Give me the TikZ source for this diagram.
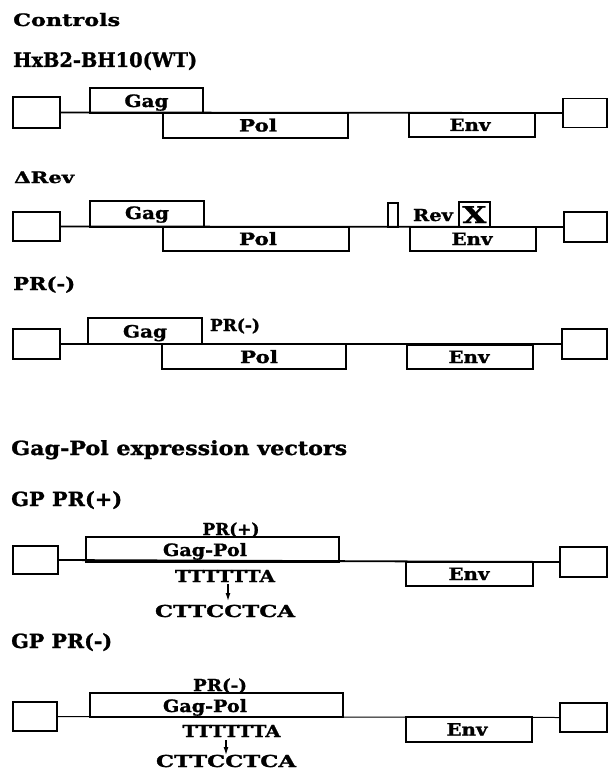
\documentclass[tikz,border=0pt]{standalone}
\usepackage{fontspec}
\setmainfont{DejaVu Serif}[BoldFeatures={FakeBold=1.2}]
\usetikzlibrary{arrows.meta}
% exact width (pt), natural height
\newcommand\tw[2]{\resizebox{#1pt}{\height}{#2}}
% exact width and height (pt)
\newcommand\twh[3]{\resizebox{#1pt}{#2pt}{#3}}
\begin{document}
\begin{tikzpicture}[x=1pt,y=-1pt,
  bx/.style={draw, line width=1.5pt, rectangle, inner sep=0pt},
  fs/.style={font=\bfseries\fontsize{#1}{#1}\selectfont},
  lab/.style={anchor=base, inner sep=0pt},
  hdr/.style={anchor=base west, inner sep=0pt},
  gline/.style={line width=1.8pt},
  arr/.style={-{Latex[length=8pt,width=5pt]}, line width=1.2pt},
  ]
\useasboundingbox (0,0) rectangle (609,773);

% headings
\node[hdr, fs=19.5] (hc) at (13,26) {\twh{107}{13}{Controls}};
\node[hdr, fs=20] (hwt) at (13,67) {\tw{184}{HxB2-BH10(WT)}};
\node[hdr, fs=19.5] (hrev) at (14,183) {\twh{60}{11.5}{ΔRev}};
\node[hdr, fs=19.5] (hpr) at (13,290) {\twh{62}{13.5}{PR(-)}};
\node[hdr, fs=19.5] (hgp) at (11,455) {\tw{336}{Gag-Pol expression vectors}};
\node[hdr, fs=19.5] (hgpp) at (11,506) {\tw{111}{GP PR(+)}};
\node[hdr, fs=19.5] (hgpm) at (11,648) {\tw{101}{GP PR(-)}};

% row 1
\node[bx, minimum width=47pt, minimum height=31pt] (l1) at (36.5,112.5) {};
\node[bx, minimum width=113pt, minimum height=25pt] (g1) at (146.5,100.5) {};
\node[bx, minimum width=185pt, minimum height=25pt] (p1) at (255.5,125.5) {};
\node[bx, minimum width=126pt, minimum height=24pt] (e1) at (472,125) {};
\node[bx, minimum width=44pt, minimum height=29pt] (r1) at (585,113) {};
\draw[gline] (l1.east) -- (r1.west);
\node[lab, fs=17] (g1t) at (146.5,107) {\tw{44}{Gag}};
\node[lab, fs=17] (p1t) at (258,131.5) {\tw{38}{Pol}};
\node[lab, fs=17] (e1t) at (470,131) {\tw{41}{Env}};

% row 2
\node[bx, minimum width=47pt, minimum height=29pt] (l2) at (36.5,226.5) {};
\node[bx, minimum width=114pt, minimum height=26pt] (g2) at (147,214) {};
\node[bx, minimum width=186pt, minimum height=24pt] (p2) at (256,239) {};
\node[bx, minimum width=10pt, minimum height=24pt] (rv2) at (393,215) {};
\node[bx, minimum width=31pt, minimum height=25pt] (x2) at (474.5,214.5) {};
\node[bx, minimum width=126pt, minimum height=24pt] (e2) at (473,239) {};
\node[bx, minimum width=43pt, minimum height=30pt] (r2) at (585.5,227) {};
\draw[gline] (l2.east) -- (r2.west);
\node[lab, fs=17] (g2t) at (147,219) {\tw{44}{Gag}};
\node[lab, fs=17] (p2t) at (258,245) {\tw{38}{Pol}};
\node[lab, fs=17] (e2t) at (472,245) {\tw{41}{Env}};
\node[lab, fs=16.5] (rt2) at (433,221) {\tw{40}{Rev}};
\node[lab, fs=23] (xt2) at (474.5,223) {\tw{24}{X}};

% row 3
\node[bx, minimum width=47pt, minimum height=30pt] (l3) at (36.5,344) {};
\node[bx, minimum width=114pt, minimum height=26pt] (g3) at (145,331) {};
\node[bx, minimum width=184pt, minimum height=25pt] (p3) at (254,356.5) {};
\node[bx, minimum width=126pt, minimum height=24pt] (e3) at (470,357) {};
\node[bx, minimum width=45pt, minimum height=30pt] (r3) at (584.5,344) {};
\draw[gline] (l3.east) -- (r3.west);
\node[lab, fs=17] (g3t) at (145,337.5) {\tw{44}{Gag}};
\node[lab, fs=17] (p3t) at (259,363) {\tw{38}{Pol}};
\node[lab, fs=17] (e3t) at (469,363) {\tw{41}{Env}};
\node[lab, fs=16.5] (pm3) at (235,331) {\tw{50}{PR(-)}};

% row 4
\node[bx, minimum width=45pt, minimum height=28pt] (l4) at (35.5,560) {};
\node[bx, minimum width=253pt, minimum height=25pt] (gp4) at (212.5,549.5) {};
\node[bx, minimum width=127pt, minimum height=24pt] (e4) at (469.5,574) {};
\node[bx, minimum width=47pt, minimum height=30pt] (r4) at (583.5,562) {};
\draw[gline] (l4.east) -- (r4.west);
\node[lab, fs=17] (gpt4) at (205,556) {\tw{84}{Gag-Pol}};
\node[lab, fs=17] (e4t) at (469,580) {\tw{41}{Env}};
\node[lab, fs=16.5] (pp4) at (231,535) {\tw{57}{PR(+)}};
\node[lab, fs=16.5] (t4) at (225,582) {\tw{100}{TTTTTTA}};
\node[lab, fs=16.5] (c4) at (225,617) {\tw{140}{CTTCCTCA}};
\coordinate (a4s) at (228,584);
\coordinate (a4e) at (228,601);
\draw[arr] (a4s) -- (a4e);

% row 5
\node[bx, minimum width=44pt, minimum height=29pt] (l5) at (35,716.5) {};
\node[bx, minimum width=253pt, minimum height=24pt] (gp5) at (216.5,705) {};
\node[bx, minimum width=126pt, minimum height=25pt] (e5) at (469,729.5) {};
\node[bx, minimum width=47pt, minimum height=29pt] (r5) at (583.5,717.5) {};
\draw[line width=1pt] (l5.east) -- (r5.west);
\node[lab, fs=17] (gpt5) at (205,712) {\tw{84}{Gag-Pol}};
\node[lab, fs=17] (e5t) at (467,735.5) {\tw{41}{Env}};
\node[lab, fs=16.5] (pm5) at (220,691) {\tw{54}{PR(-)}};
\node[lab, fs=16.5] (t5) at (231.5,737) {\tw{98}{TTTTTTA}};
\node[lab, fs=16.5] (c5) at (226,767) {\tw{140}{CTTCCTCA}};
\coordinate (a5s) at (226,740);
\coordinate (a5e) at (226,755);
\draw[arr] (a5s) -- (a5e);
\end{tikzpicture}
\end{document}
